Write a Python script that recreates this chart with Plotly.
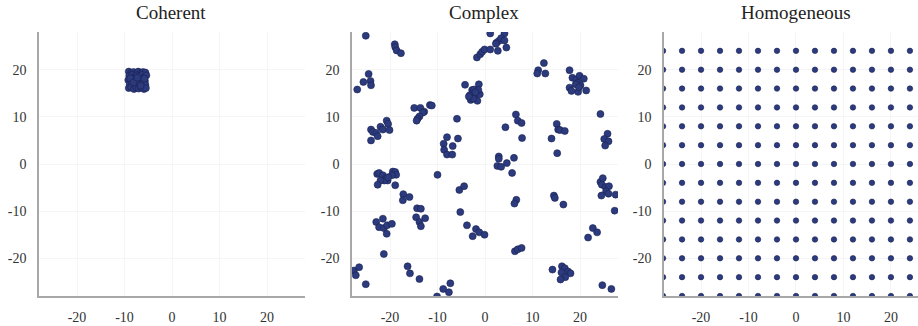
import plotly.graph_objects as go

# ---------------- data ----------------
panel_titles = ["Coherent", "Complex", "Homogeneous"]
tick_vals = [-20, -10, 0, 10, 20]
tick_text = ["-20", "-10", "0", "10", "20"]

coherent_x = [-9.1, -8.6, -8.1, -7.6, -7.1, -6.6, -6.1, -5.6,
              -9.0, -8.4, -7.9, -7.4, -6.9, -6.3, -5.8, -5.4,
              -9.2, -8.7, -8.2, -7.7, -7.2, -6.7, -6.2, -5.7,
              -8.9, -8.4, -7.8, -7.3, -6.8, -6.2, -5.6,
              -9.1, -8.6, -8.0, -7.5, -7.0, -6.5, -5.9, -5.5,
              -8.8, -8.1, -7.3, -6.6, -5.8]
coherent_y = [19.6, 19.3, 19.5, 19.2, 19.6, 19.3, 19.5, 19.4,
              18.7, 18.9, 18.5, 18.8, 18.6, 18.9, 18.4, 18.8,
              17.8, 17.6, 18.0, 17.7, 17.9, 17.5, 17.9, 17.6,
              16.9, 17.1, 16.8, 17.2, 16.9, 17.1, 16.8,
              16.1, 16.3, 15.9, 16.2, 16.0, 16.3, 15.9, 16.1,
              18.2, 17.3, 18.3, 16.6, 18.1]

complex_x = [
    -25.1, -19.0, -18.9, -18.6, -17.7, -24.5, -25.6, -24.1, -24.0, -26.9,
    -1.7, -1.0, -0.6, -0.1,
    -4.2, -1.3, -2.7, -2.3, -3.2, -1.9, -1.1, -3.0, -1.6, -2.5, -3.4, -1.4, -2.0,
    -24.0, -23.6, -22.9, -22.6, -22.0, -21.5, -20.7, -20.4, -20.1, -24.0,
    -14.9, -13.6, -12.8, -11.6, -11.2, -13.1, -13.8, -14.2, -14.4,
    -5.9, -8.0, -5.7, -8.7, -6.8, -8.6, -8.0, -6.9,
    1.1, 4.1, 2.4, 2.9, 3.4, 4.1, 4.5, 2.7, 1.1, 2.3,
    12.4, 11.2, 11.0, 12.7,
    17.8, 18.4, 19.2, 19.9, 20.8, 19.6, 20.1, 19.1, 17.8, 18.2, 19.6, 21.3, 19.8,
    6.5, 6.9, 7.7, 4.3, 7.8,
    15.1, 15.4, 15.8, 16.8, 14.0, 15.2,
    24.3, 25.8, 25.1, 26.0, 25.3,
    2.9, 2.9, 4.6, 6.1, 2.6, 3.4, 5.7,
    -22.7, -22.3, -21.5, -20.8, -20.5, -21.2, -22.0, -22.6, -19.4, -18.9, -18.7, -19.6, -18.9, -20.4,
    -17.2, -15.9, -17.3,
    -14.3, -13.5, -14.5, -12.6, -13.8, -13.5,
    -10.0, -5.4, -4.4, -5.2, -3.8, -1.9, -1.2, -0.1, -2.6,
    -22.9, -21.5, -22.3, -21.3, -20.6, -19.6, -20.7, -21.3,
    -27.6, -26.5, -27.2, -25.1,
    -16.3, -15.8, -13.8,
    -7.3, -8.8, -7.6, -10.1,
    6.6, 6.2, 14.5, 14.7, 16.5,
    6.3, 6.9, 7.7,
    22.7, 23.6, 21.7,
    24.3, 24.8, 24.6, 25.4, 26.1, 25.5, 26.0, 24.5, 27.5, 27.3,
    16.2, 16.8, 17.5, 14.2, 16.1, 18.0, 16.9, 15.9,
    24.7, 26.6,
]
complex_y = [
    27.2, 25.4, 24.8, 24.1, 23.5, 19.1, 17.4, 17.6, 16.7, 15.8,
    22.6, 23.3, 23.8, 24.3,
    16.8, 16.9, 15.7, 15.8, 14.6, 14.8, 14.8, 13.6, 13.4, 13.9, 14.3, 15.7, 15.2,
    7.3, 6.8, 6.6, 5.9, 7.9, 7.3, 9.2, 8.5, 7.2, 5.0,
    11.9, 11.9, 11.1, 12.5, 12.4, 10.9, 10.1, 9.6, 9.2,
    9.6, 5.7, 5.4, 4.3, 3.8, 3.0, 2.0, 2.0,
    27.7, 27.7, 25.7, 26.1, 26.7, 26.2, 24.7, 24.0, 24.3, 25.5,
    21.4, 19.9, 19.2, 19.2,
    19.9, 18.3, 17.9, 18.7, 18.1, 17.2, 16.7, 16.9, 16.2, 15.5, 15.3, 15.6, 16.3,
    10.5, 9.2, 8.7, 7.8, 5.5,
    8.5, 7.3, 7.2, 7.0, 5.4, 2.3,
    10.6, 6.4, 5.3, 4.8, 3.9,
    1.6, 1.1, 0.2, 1.3, -0.4, -0.6, -1.9,
    -2.1, -1.9, -2.4, -3.0, -3.5, -3.5, -3.5, -4.4, -1.6, -1.7, -2.3, -2.4, -4.5, -2.8,
    -6.4, -7.0, -7.7,
    -9.4, -9.5, -11.3, -11.5, -12.3, -13.2,
    -2.3, -5.5, -4.7, -10.2, -13.0, -13.8, -14.5, -15.0, -15.3,
    -12.3, -11.6, -13.4, -13.6, -13.0, -12.7, -14.8, -19.1,
    -22.6, -21.9, -23.6, -25.5,
    -21.7, -23.2, -24.4,
    -25.3, -26.5, -27.2, -28.1,
    -7.6, -8.4, -6.7, -7.2, -8.6,
    -18.5, -18.1, -17.8,
    -13.6, -14.5, -15.6,
    -3.8, -3.0, -4.4, -4.9, -4.7, -5.8, -6.3, -6.7, -6.5, -9.9,
    -21.7, -22.1, -22.8, -22.4, -23.0, -23.2, -24.0, -24.5,
    -25.7, -26.5,
]

homog_grid = [-28, -24, -20, -16, -12, -8, -4, 0, 4, 8, 12, 16, 20, 24]
homog_x = [gx for gy in homog_grid for gx in homog_grid]
homog_y = [gy for gy in homog_grid for gx in homog_grid]

# ---------------- styling ----------------
W, H = 918, 326
FONT = "Liberation Serif, Times New Roman, serif"
DOT = "#2c3a7e"
EDGE = "#1a2150"

fig = go.Figure()

def add(x, y, idx, size):
    fig.add_trace(go.Scatter(
        x=x, y=y, mode="markers",
        marker=dict(color=DOT, size=size, line=dict(color=EDGE, width=0.6)),
        xaxis="x" if idx == 1 else f"x{idx}",
        yaxis="y" if idx == 1 else f"y{idx}",
        showlegend=False, hoverinfo="skip"))

add(coherent_x, coherent_y, 1, 7)
add(complex_x, complex_y, 2, 7)
add(homog_x, homog_y, 3, 5.5)

px_domains = [(39, 305), (352, 618), (664, 918)]
x_ranges = [[-28, 28], [-28, 28], [-27.8, 25.7]]
y_dom = [1 - 296 / H, 1 - 32 / H]

axis_common = dict(
    showline=True, linecolor="#a8a8a8", linewidth=1.5, mirror=False,
    showgrid=True, gridcolor="#f5f5f5", gridwidth=1, zeroline=False,
    ticks="", tickvals=tick_vals, ticktext=tick_text,
    tickfont=dict(family=FONT, size=14, color="#333333"),
    fixedrange=True,
)

layout = dict(
    width=W, height=H, margin=dict(l=0, r=0, t=0, b=0),
    paper_bgcolor="white", plot_bgcolor="white",
    font=dict(family=FONT),
)
for i in range(3):
    sx = "" if i == 0 else str(i + 1)
    a, b = px_domains[i]
    layout[f"xaxis{sx}"] = dict(axis_common, domain=[a / W, b / W], range=x_ranges[i],
                                anchor=f"y{sx}", ticklabelstandoff=7)
    layout[f"yaxis{sx}"] = dict(axis_common, domain=y_dom, range=[-28, 28],
                                anchor=f"x{sx}", ticklabelstandoff=8)

fig.update_layout(**layout)

title_centers = [171, 484, 796]
for t, cx in zip(panel_titles, title_centers):
    fig.add_annotation(text=t, x=cx / W, y=1 - 13 / H, xref="paper", yref="paper",
                       showarrow=False, xanchor="center", yanchor="middle",
                       font=dict(family=FONT, size=19, color="#222222"))

fig.write_html("out.html")
